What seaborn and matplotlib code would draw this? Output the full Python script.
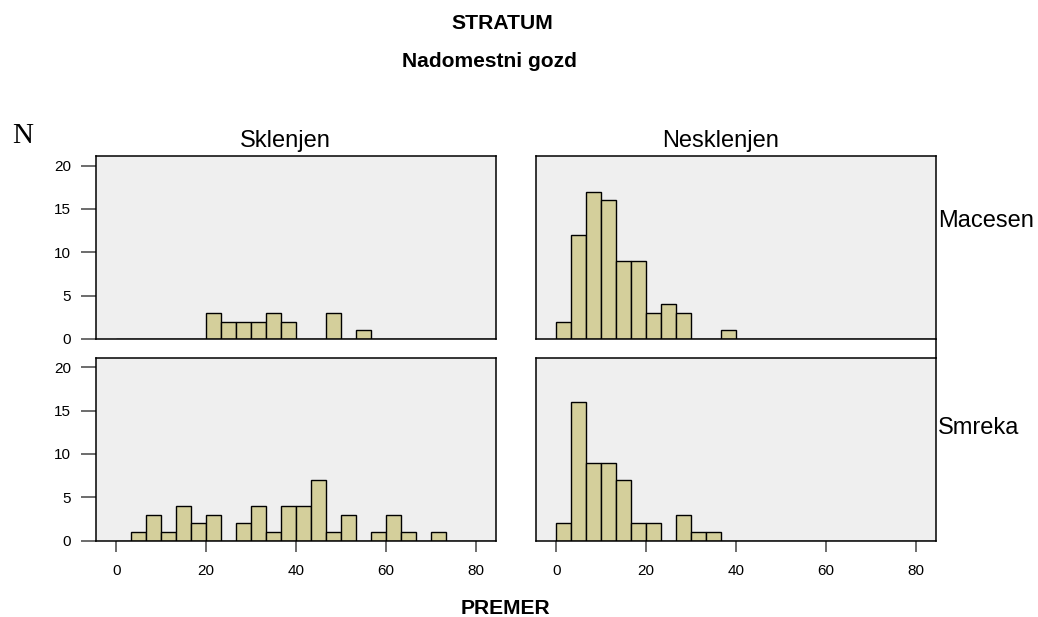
import numpy as np
import pandas as pd
import matplotlib
matplotlib.use("Agg")
import matplotlib.pyplot as plt
import seaborn as sns
from matplotlib.lines import Line2D

# ---------------- data ----------------
bin_width = 10 / 3          # class width of the histogram (PREMER)
n_bins = 26
columns = ["Sklenjen", "Nesklenjen"]
rows = ["Macesen", "Smreka"]
x_ticks = [0, 20, 40, 60, 80]
y_ticks = [0, 5, 10, 15, 20]

# counts per bin (bin i covers [i*w, (i+1)*w))
macesen_sklenjen = [0, 0, 0, 0, 0, 0, 3, 2, 2, 2, 3, 2, 0, 0, 3, 0, 1, 0, 0, 0, 0, 0, 0, 0, 0, 0]
macesen_nesklenjen = [2, 12, 17, 16, 9, 9, 3, 4, 3, 0, 0, 1, 0, 0, 0, 0, 0, 0, 0, 0, 0, 0, 0, 0, 0, 0]
smreka_sklenjen = [0, 1, 3, 1, 4, 2, 3, 0, 2, 4, 1, 4, 4, 7, 1, 3, 0, 1, 3, 1, 0, 1, 0, 0, 0, 0]
smreka_nesklenjen = [2, 16, 9, 9, 7, 2, 2, 0, 3, 1, 1, 0, 0, 0, 0, 0, 0, 0, 0, 0, 0, 0, 0, 0, 0, 0]

counts = {
    ("Macesen", "Sklenjen"): macesen_sklenjen,
    ("Macesen", "Nesklenjen"): macesen_nesklenjen,
    ("Smreka", "Sklenjen"): smreka_sklenjen,
    ("Smreka", "Nesklenjen"): smreka_nesklenjen,
}

# ---------------- style ----------------
sns.set_theme(style="white")
plt.rcParams["font.family"] = ["Liberation Sans", "DejaVu Sans"]
plt.rcParams["text.color"] = "black"
plt.rcParams["xtick.color"] = "black"
plt.rcParams["ytick.color"] = "black"

W, H = 1038, 617
fig = plt.figure(figsize=(W / 100, H / 100), dpi=100)

def fx(px):
    return px / W

def fy(py):
    return 1 - py / H

bar_color = "#D4CF9B"
panel_color = "#EFEFEF"
centers = (np.arange(n_bins) + 0.5) * bin_width

col_left = {"Sklenjen": 96, "Nesklenjen": 536}
row_top = {"Macesen": 156, "Smreka": 357.7}
pw, ph = 400, 183

for r in rows:
    for c in columns:
        ax = fig.add_axes([fx(col_left[c]), fy(row_top[r] + ph), fx(pw), ph / H])
        df = pd.DataFrame({"PREMER": centers, "N": np.asarray(counts[(r, c)], dtype=float)})
        df = df[df["N"] > 0]
        sns.histplot(data=df, x="PREMER", weights="N", binwidth=bin_width,
                     binrange=(0, n_bins * bin_width), ax=ax,
                     color=bar_color, alpha=1, edgecolor="black", linewidth=1.0)
        ax.set_facecolor(panel_color)
        ax.set_xlim(-4.5, 84.5)
        ax.set_ylim(0, 21.1)
        ax.set_xlabel("")
        ax.set_ylabel("")
        for s in ax.spines.values():
            s.set_visible(True)
            s.set_color("black")
            s.set_linewidth(1.1)
        ax.set_xticks(x_ticks)
        ax.set_yticks(y_ticks)
        ax.tick_params(axis="y", left=(c == "Sklenjen"), labelleft=(c == "Sklenjen"),
                       length=11, width=1.1, color="#444444", pad=7, labelsize=11,
                       labelcolor="black")
        ax.tick_params(axis="x", bottom=(r == "Smreka"), labelbottom=(r == "Smreka"),
                       length=8, width=1.1, color="#444444", pad=9, labelsize=11,
                       labelcolor="black")
        ax.grid(False)

# connector line on the right edge between the right-column panels
fig.add_artist(Line2D([fx(936), fx(936)], [fy(339), fy(357.7)], color="black", lw=1.1))

# ---------------- texts ----------------
fig.text(fx(502), fy(29.3), "STRATUM", ha="center", va="baseline",
         fontsize=15.2, fontweight="bold")
fig.text(fx(489), fy(66.7), "Nadomestni gozd", ha="center", va="baseline",
         fontsize=15.1, fontweight="bold")
fig.text(fx(22.5), fy(142.7), "N", ha="center", va="baseline",
         fontsize=21, family=["Liberation Serif", "DejaVu Serif"])
fig.text(fx(285), fy(146.7), "Sklenjen", ha="center", va="baseline", fontsize=17)
fig.text(fx(720.6), fy(146.7), "Nesklenjen", ha="center", va="baseline", fontsize=17)
fig.text(fx(938), fy(226.7), "Macesen", ha="left", va="baseline", fontsize=17)
fig.text(fx(938), fy(433.5), "Smreka", ha="left", va="baseline", fontsize=17)
fig.text(fx(505), fy(614), "PREMER", ha="center", va="baseline",
         fontsize=15.1, fontweight="bold")

fig.savefig("out.png", dpi=100)
